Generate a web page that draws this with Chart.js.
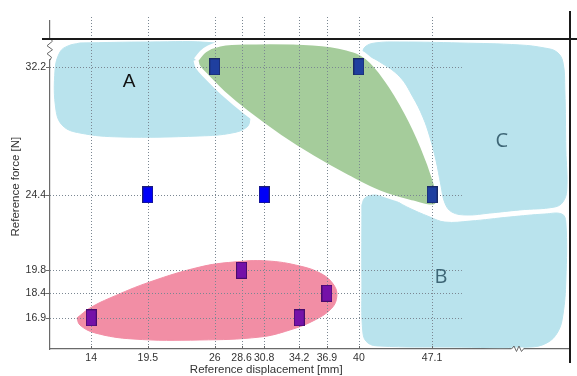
<!DOCTYPE html>
<html><head><meta charset="utf-8">
<script src="https://cdn.jsdelivr.net/npm/chart.js@4/dist/chart.umd.min.js"></script>
<style>html,body{margin:0;padding:0;background:#fff;}</style>
</head><body>
<canvas id="c" width="577" height="376"></canvas>
<script>
// ---- tick values ----
const xTicks = [14, 19.5, 26, 28.6, 30.8, 34.2, 36.9, 40, 47.1];
const yTicks = [16.9, 18.4, 19.8, 24.4, 32.2];

// ---- measured points ----
const darkBluePoints = [{x:26,y:32.2},{x:40,y:32.2},{x:47.1,y:24.4}];
const brightBluePoints = [{x:19.5,y:24.4},{x:30.8,y:24.4}];
const purplePoints = [{x:14,y:16.9},{x:28.6,y:19.8},{x:34.2,y:16.9},{x:36.9,y:18.4}];

// ---- region outlines (data units) ----
const regionA = [[12.91,33.66],[19.71,33.72],[26.02,33.66],[28.45,33.23],[29.42,30.18],[29.42,29.09],[29.13,28.54],[27.67,28.17],[24.56,27.99],[16.80,27.93],[12.91,28.17],[11.26,28.60],[10.58,29.57],[10.49,32.01],[10.97,33.11],[11.75,33.48],[12.91,33.66]];
const regionGreen = [[24.17,32.62],[25.05,33.23],[26.50,33.60],[29.42,33.72],[35.53,33.66],[38.83,33.35],[40.78,32.80],[42.72,31.40],[44.66,29.39],[46.21,27.32],[47.38,25.30],[47.77,24.09],[47.28,23.66],[45.24,23.90],[42.04,24.51],[38.83,25.49],[35.53,26.65],[32.33,27.93],[29.13,29.39],[26.80,30.61],[25.24,31.59],[24.37,32.20],[24.17,32.62]];
const regionC = [[40.29,32.93],[40.58,33.41],[41.55,33.66],[43.98,33.72],[49.81,33.66],[55.63,33.54],[58.06,33.35],[59.22,33.11],[59.81,32.50],[60.00,30.79],[60.10,27.13],[60.19,24.70],[59.81,23.96],[59.03,23.66],[55.63,23.48],[52.72,23.29],[50.49,23.17],[49.03,23.35],[48.35,23.90],[47.96,25.00],[47.48,26.52],[46.89,27.93],[46.21,29.15],[45.24,30.37],[43.98,31.59],[42.04,32.50],[40.87,32.87],[40.29,32.93]];
const regionB = [[40.29,23.78],[40.58,24.21],[41.55,24.39],[43.01,24.21],[44.66,23.66],[46.89,23.05],[48.35,22.74],[50.78,22.80],[54.66,23.05],[58.06,23.23],[59.71,23.23],[60.10,22.74],[60.10,19.21],[59.81,17.07],[59.32,16.04],[58.25,15.37],[56.60,15.12],[48.83,15.12],[42.04,15.18],[40.87,15.37],[40.39,15.98],[40.29,19.21],[40.29,23.78]];
const regionPink = [[12.62,16.89],[13.88,17.50],[15.83,18.11],[19.71,19.09],[24.56,20.00],[27.77,20.30],[31.07,20.37],[34.27,20.06],[36.41,19.57],[37.57,18.90],[37.86,18.23],[37.38,17.50],[35.73,16.77],[33.30,16.16],[30.39,15.73],[24.56,15.55],[18.06,15.61],[14.37,15.98],[12.91,16.46],[12.62,16.89]];

const regionLabels = ['A','B','C'];
const regionLabelX = [17.67, 47.96, 53.88];
const regionLabelY = [31.28, 19.39, 27.68];

const xTitle = 'Reference displacement [mm]';
const yTitle = 'Reference force [N]';

// ---- layout / decoration constants ----
const X_MIN = 10, X_MAX = 60.5, Y_MIN = 15, Y_MAX = 35;
const GRID_X_END = 50;          // horizontal grid lines stop here
const TOP_LINE_Y = 33.9;        // black break line
const LEFT_BREAK_Y = 33.28;     // zigzag on y axis
const BOTTOM_BREAK_X = 55.4;    // zigzag on x axis

const toXY = arr => arr.map(p => ({x:p[0], y:p[1]}));

function rectMarker(fill, stroke, w, h){
  const c = document.createElement('canvas'); c.width = w; c.height = h;
  const g = c.getContext('2d');
  g.fillStyle = fill; g.fillRect(0,0,w,h);
  g.strokeStyle = stroke; g.lineWidth = 1; g.strokeRect(0.5,0.5,w-1,h-1);
  return c;
}

function blob(data, color, order, extra){
  return Object.assign({
    type:'line', data: toXY(data), backgroundColor: color, borderColor: color, borderWidth: 1,
    fill:'shape', tension:0.4, pointRadius:0, order: order
  }, extra || {});
}

const GRID_COLOR = '#7b8792';
const AXIS_COLOR = '#6a6a6a';

function drawGrid(chart){
  const {ctx, chartArea:a, scales:{x, y}} = chart;
  ctx.save();
  ctx.strokeStyle = GRID_COLOR; ctx.lineWidth = 1; ctx.setLineDash([1,2]);
  xTicks.forEach(v => {
    const px = Math.round(x.getPixelForValue(v)) + 0.5;
    ctx.beginPath(); ctx.moveTo(px, a.top - 4); ctx.lineTo(px, a.bottom); ctx.stroke();
  });
  const xEnd = x.getPixelForValue(GRID_X_END);
  yTicks.forEach(v => {
    const py = Math.round(y.getPixelForValue(v)) + 0.5;
    ctx.beginPath(); ctx.moveTo(a.left, py); ctx.lineTo(xEnd, py); ctx.stroke();
  });
  ctx.setLineDash([]);
  ctx.strokeStyle = AXIS_COLOR;
  yTicks.forEach(v => {
    const py = Math.round(y.getPixelForValue(v)) + 0.5;
    ctx.beginPath(); ctx.moveTo(a.left - 4, py); ctx.lineTo(a.left, py); ctx.stroke();
  });
  xTicks.forEach(v => {
    const px = Math.round(x.getPixelForValue(v)) + 0.5;
    ctx.beginPath(); ctx.moveTo(px, a.bottom - 3); ctx.lineTo(px, a.bottom); ctx.stroke();
  });
  ctx.restore();
}

const deco = {
  id:'deco',
  afterDatasetDraw(chart, args){
    if (chart.data.datasets[args.index].gridAfter) drawGrid(chart);
  },
  afterDraw(chart){
    const {ctx, chartArea:a, scales:{x, y}} = chart;
    const W = chart.width;
    ctx.save();
    // left zigzag break
    const cy = y.getPixelForValue(LEFT_BREAK_Y);
    ctx.fillStyle = '#fff';
    ctx.fillRect(a.left - 2, cy - 10, 4, 20);
    ctx.strokeStyle = AXIS_COLOR; ctx.lineWidth = 1;
    ctx.beginPath();
    [[0,-11],[2.5,-8],[-3,-3.5],[2.5,0.5],[-3,4.5],[1.5,8],[0,11]].forEach((p,i)=>{
      const X = a.left + p[0], Y = cy + p[1];
      i ? ctx.lineTo(X,Y) : ctx.moveTo(X,Y);
    });
    ctx.stroke();
    // bottom zigzag break
    const cx = x.getPixelForValue(BOTTOM_BREAK_X);
    ctx.fillStyle = '#fff';
    ctx.fillRect(cx - 6, a.bottom - 1.5, 12, 3);
    ctx.beginPath();
    [[-6,0],[-3.5,-3],[-1,2.5],[1.5,-3],[4,2.5],[6,0]].forEach((p,i)=>{
      const X = cx + p[0], Y = a.bottom + p[1];
      i ? ctx.lineTo(X,Y) : ctx.moveTo(X,Y);
    });
    ctx.stroke();
    // black top and right lines
    ctx.strokeStyle = '#1a1a1a'; ctx.lineWidth = 2;
    const ty = Math.round(y.getPixelForValue(TOP_LINE_Y));
    ctx.beginPath(); ctx.moveTo(a.left - 8, ty); ctx.lineTo(W, ty); ctx.stroke();
    const rx = Math.round(x.getPixelForValue(X_MAX));
    ctx.beginPath(); ctx.moveTo(rx, 11); ctx.lineTo(rx, a.bottom + 14); ctx.stroke();
    // region letters
    ctx.textAlign = 'center'; ctx.textBaseline = 'middle';
    regionLabels.forEach((t,i)=>{
      if (t === 'A') { ctx.font = '19px "Liberation Sans", Arial, sans-serif'; ctx.fillStyle = '#111'; }
      else { ctx.font = '20px "Open Sans", sans-serif'; ctx.fillStyle = '#3e6676'; }
      ctx.fillText(t, x.getPixelForValue(regionLabelX[i]), y.getPixelForValue(regionLabelY[i]));
    });
    // axis titles
    ctx.fillStyle = '#333';
    ctx.font = '11.5px "Liberation Sans", Arial, sans-serif';
    ctx.fillText(xTitle, x.getPixelForValue(31), a.bottom + 21);
    ctx.save();
    ctx.translate(16, y.getPixelForValue(24.9));
    ctx.rotate(-Math.PI/2);
    ctx.fillText(yTitle, 0, 0);
    ctx.restore();
    ctx.restore();
  }
};

const tickFont = {family:'"Liberation Sans", Arial, sans-serif', size:10.5};

new Chart(document.getElementById('c'), {
  type:'scatter',
  data:{ datasets:[
    {data: darkBluePoints, pointStyle: rectMarker('#1f3f9f','#1a2a66',11,17), order:0},
    {data: brightBluePoints, pointStyle: rectMarker('#0000f8','#1c1c78',11,17), order:0},
    {data: purplePoints, pointStyle: rectMarker('#7511a8','#4a0a6c',11,17), order:0},
    blob(regionGreen, '#a5cc9b', 1, {borderColor:'#ffffff', borderWidth:5, gridAfter:true}),
    blob(regionA, '#b9e3ed', 2),
    blob(regionC, '#b9e3ed', 2),
    blob(regionB, '#b9e3ed', 2),
    blob(regionPink, '#f28ea5', 2)
  ]},
  options:{
    responsive:false, animation:false, devicePixelRatio:1,
    layout:{padding:{top:21, right:7, bottom:0, left:0}},
    elements:{line:{capBezierPoints:false}},
    plugins:{legend:{display:false}, tooltip:{enabled:false}},
    scales:{
      x:{type:'linear', min:X_MIN, max:X_MAX,
        afterBuildTicks: s => { s.ticks = xTicks.map(v => ({value:v})); },
        afterFit: s => { s.height = 27; },
        ticks:{autoSkip:false, maxRotation:0, minRotation:0, padding:3, font:tickFont, color:'#333', callback: v => String(v)},
        grid:{display:false, drawTicks:false},
        border:{display:true, color:AXIS_COLOR, width:1.2}
      },
      y:{type:'linear', min:Y_MIN, max:Y_MAX,
        afterBuildTicks: s => { s.ticks = yTicks.map(v => ({value:v})); },
        afterFit: s => { s.width = 50; },
        ticks:{autoSkip:false, padding:4, font:tickFont, color:'#333', callback: v => String(v)},
        grid:{display:false, drawTicks:false},
        border:{display:true, color:AXIS_COLOR, width:1.2}
      }
    }
  },
  plugins:[deco]
});
</script>
</body></html>
